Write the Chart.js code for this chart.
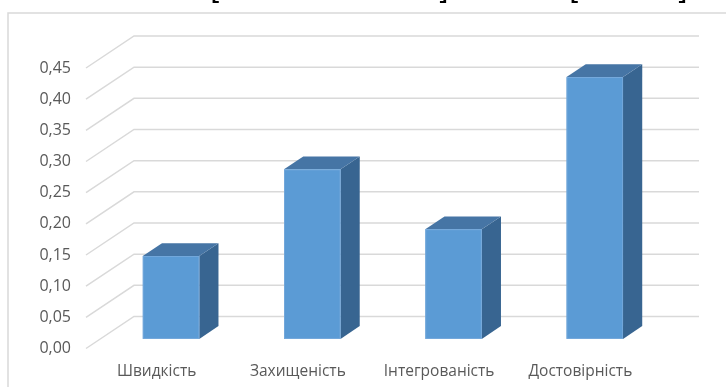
<!DOCTYPE html>
<html>
<head>
<meta charset="utf-8">
<script src="https://cdn.jsdelivr.net/npm/chart.js@4"></script>
<style>
html,body{margin:0;padding:0;background:#fff;overflow:hidden;}
#wrap{position:relative;width:726px;height:387px;}
canvas{position:absolute;left:0;top:0;}
.br{position:absolute;font-family:"DejaVu Sans";font-size:30px;line-height:30px;color:#000;top:-26px;}
</style>
</head>
<body>
<div id="wrap">
<canvas id="c" width="726" height="387"></canvas>
<span class="br" style="left:210px">[</span>
<span class="br" style="left:437px">]</span>
<span class="br" style="left:569px">[</span>
<span class="br" style="left:676px">]</span>
</div>
<script>
const categories = ["Швидкість", "Захищеність", "Інтегрованість", "Достовірність"];
const values = [0.133, 0.272, 0.176, 0.420];
const yMin = 0;
const yMax = 0.45;
const yStep = 0.05;

const DEPTH_X = 48, DEPTH_Y = 32;      // wall depth
const BAR_FRONT = 0.3, BAR_DEPTH = 0.4; // fraction of depth

const threeD = {
  id: 'threeD',
  beforeDraw(chart) {
    const ctx = chart.ctx;
    ctx.save();
    ctx.strokeStyle = '#d9d9d9';
    ctx.lineWidth = 1.5;
    ctx.strokeRect(8, 13, 900, 600);
    ctx.restore();
  },
  beforeDatasetsDraw(chart) {
    const ctx = chart.ctx, y = chart.scales.y, a = chart.chartArea;
    ctx.save();
    ctx.strokeStyle = '#d9d9d9';
    ctx.lineWidth = 1.5;
    y.ticks.forEach(t => {
      const py = y.getPixelForValue(t.value);
      ctx.beginPath();
      ctx.moveTo(a.left, py);
      ctx.lineTo(a.left + DEPTH_X, py - DEPTH_Y);
      ctx.lineTo(a.right + DEPTH_X, py - DEPTH_Y);
      ctx.stroke();
    });
    ctx.restore();
  },
  afterDatasetsDraw(chart) {
    const ctx = chart.ctx;
    const meta = chart.getDatasetMeta(0);
    const ox = DEPTH_X * BAR_FRONT, oy = DEPTH_Y * BAR_FRONT;
    const dx = DEPTH_X * BAR_DEPTH, dy = DEPTH_Y * BAR_DEPTH;
    ctx.save();
    meta.data.forEach(bar => {
      const p = bar.getProps(['x', 'y', 'base', 'width'], true);
      const l = p.x - p.width / 2 + ox, r = p.x + p.width / 2 + ox;
      const t = p.y - oy, b = p.base - oy;
      // side
      ctx.fillStyle = '#386591';
      ctx.beginPath();
      ctx.moveTo(r, t); ctx.lineTo(r + dx, t - dy); ctx.lineTo(r + dx, b - dy); ctx.lineTo(r, b);
      ctx.closePath(); ctx.fill();
      // top
      ctx.fillStyle = '#4675a5';
      ctx.beginPath();
      ctx.moveTo(l, t); ctx.lineTo(l + dx, t - dy); ctx.lineTo(r + dx, t - dy); ctx.lineTo(r, t);
      ctx.closePath(); ctx.fill();
      // front
      ctx.fillStyle = '#5b9bd5';
      ctx.fillRect(l, t, r - l, b - t);
      ctx.strokeStyle = 'rgba(120,170,220,0.8)';
      ctx.lineWidth = 1;
      ctx.strokeRect(l + 0.5, t + 0.5, r - l - 1, b - t - 1);
    });
    ctx.restore();
  }
};

new Chart(document.getElementById('c'), {
  type: 'bar',
  data: {
    labels: categories,
    datasets: [{
      data: values,
      backgroundColor: 'rgba(0,0,0,0)',
      borderWidth: 0,
      barPercentage: 0.4,
      categoryPercentage: 1
    }]
  },
  options: {
    responsive: false,
    animation: false,
    devicePixelRatio: 1,
    layout: { padding: { left: 0, top: 68, right: 75, bottom: 0 } },
    plugins: { legend: { display: false }, tooltip: { enabled: false } },
    scales: {
      x: {
        grid: { display: false, drawTicks: false },
        border: { display: false },
        ticks: { color: '#595959', font: { family: 'Open Sans', size: 15.5 }, padding: 14, maxRotation: 0 },
        afterFit(s) { s.height = 38.5; }
      },
      y: {
        min: yMin, max: yMax,
        grid: { display: false, drawTicks: false },
        border: { display: false },
        ticks: {
          stepSize: yStep,
          color: '#595959',
          font: { family: 'Open Sans', size: 16 },
          padding: 15,
          callback: v => v.toFixed(2).replace('.', ',')
        },
        afterFit(s) { s.width = 86; }
      }
    }
  },
  plugins: [threeD]
});
</script>
</body>
</html>
